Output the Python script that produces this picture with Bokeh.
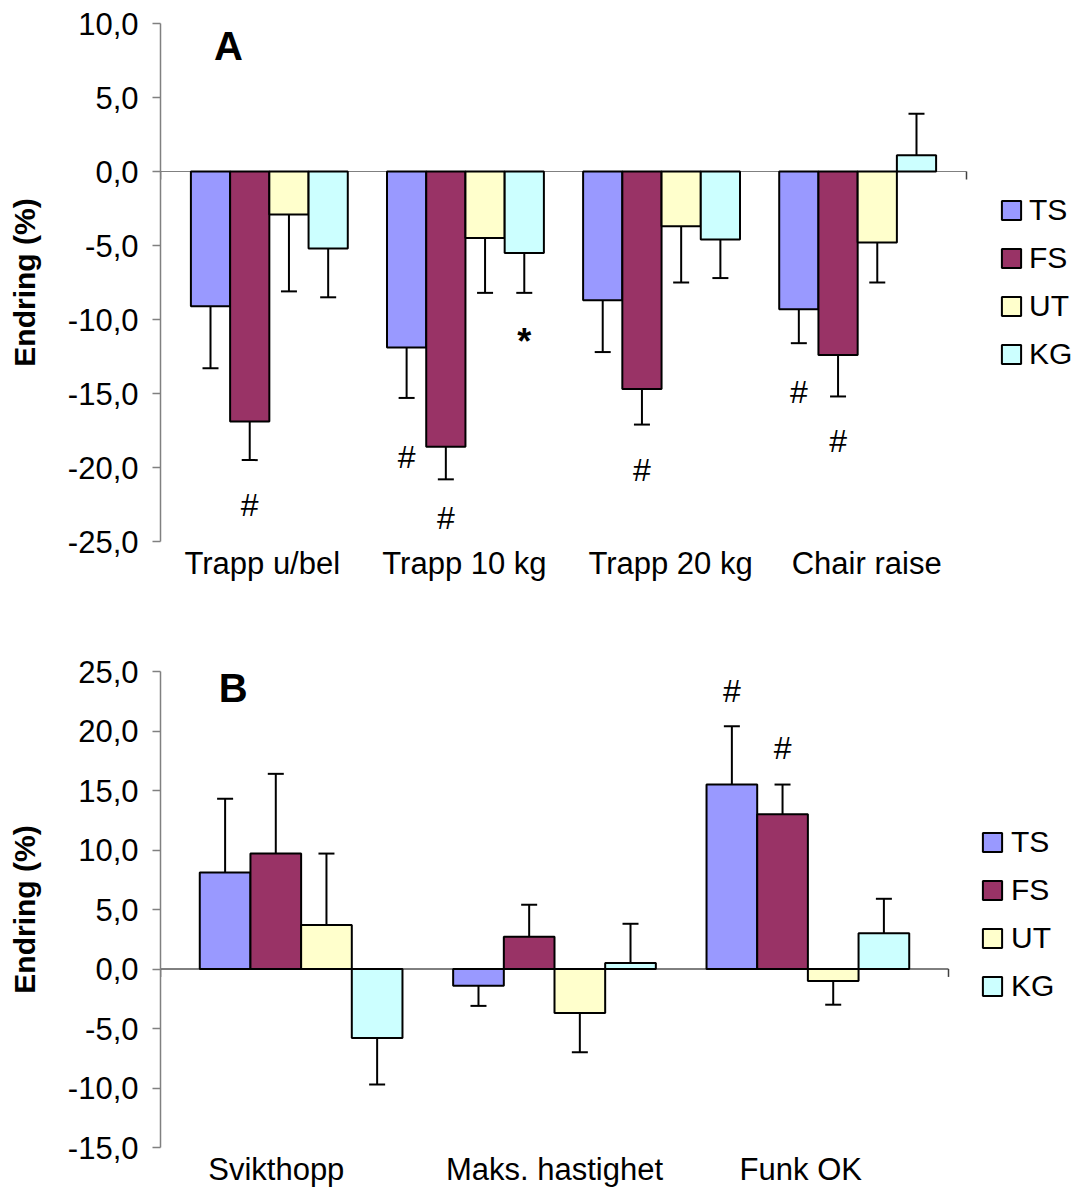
from bokeh.plotting import figure
from bokeh.models import (Range1d, FixedTicker, Legend, LegendItem,
                          Label, CustomJSTickFormatter)
from bokeh.core.properties import value
from bokeh.embed import file_html
from bokeh.resources import INLINE

FONT = "Liberation Sans"

series = ["TS", "FS", "UT", "KG"]
colors = ["#9999FF", "#993366", "#FFFFCC", "#CCFFFF"]

# Panel A: stair / chair tests, change in %
cats_a = ["Trapp u/bel", "Trapp 10 kg", "Trapp 20 kg", "Chair raise"]
ts_a = [-9.1, -11.9, -8.7, -9.3]
fs_a = [-16.9, -18.6, -14.7, -12.4]
ut_a = [-2.9, -4.5, -3.7, -4.8]
kg_a = [-5.2, -5.5, -4.6, 1.1]
ts_a_err = [4.2, 3.4, 3.5, 2.3]
fs_a_err = [2.6, 2.2, 2.4, 2.8]
ut_a_err = [5.2, 3.7, 3.8, 2.7]
kg_a_err = [3.3, 2.7, 2.6, 2.8]
yticks_a = [-25, -20, -15, -10, -5, 0, 5, 10]

# Panel B: jump / speed / functional tests, change in %
cats_b = ["Svikthopp", "Maks. hastighet", "Funk OK"]
ts_b = [8.1, -1.4, 15.5]
fs_b = [9.7, 2.7, 13.0]
ut_b = [3.7, -3.7, -1.0]
kg_b = [-5.8, 0.5, 3.0]
ts_b_err = [6.2, 1.7, 4.9]
fs_b_err = [6.7, 2.7, 2.5]
ut_b_err = [6.0, 3.3, 2.0]
kg_b_err = [3.9, 3.3, 2.9]
yticks_b = [-15, -10, -5, 0, 5, 10, 15, 20, 25]

# significance markers: (category, series, y, symbol)
marks_a = [(0, 1, -22.5, "#"), (1, 0, -19.3, "#"), (1, 1, -23.4, "#"),
           (1, 3, -11.5, "*"), (2, 1, -20.2, "#"), (3, 0, -14.9, "#"),
           (3, 1, -18.2, "#")]
marks_b = [(2, 0, 23.4, "#"), (2, 1, 18.6, "#")]

OFFSETS = [-0.3, -0.1, 0.1, 0.3]
BAR_W = 0.2
PAD = 0.555
FRAME_LEFT = 160
WIDTH = 1078


def panel(cats, vals, errs, marks, ylo, yhi, yticks, letter, letter_pos,
          label_shift, height, border_top, border_bottom, axis_right,
          legend_loc, legend_standoff, zero_color):
    n = len(cats)
    x0, x1 = -PAD, n - 1 + PAD
    # the frame runs to the right edge so the legend is drawn inside it;
    # the category axis itself stops at axis_right (pixels)
    px_per_cat = (axis_right - FRAME_LEFT) / (x1 - x0)
    x_end = x1 + (WIDTH - axis_right) / px_per_cat
    p = figure(width=WIDTH, height=height, output_backend="svg",
               toolbar_location=None,
               x_range=Range1d(x0, x_end), y_range=Range1d(ylo, yhi),
               min_border_left=FRAME_LEFT, min_border_right=0,
               min_border_top=border_top, min_border_bottom=border_bottom)
    p.outline_line_color = None
    p.xgrid.visible = False
    p.ygrid.visible = False
    p.background_fill_color = "white"
    p.border_fill_color = "white"

    # y axis
    yax = p.yaxis[0]
    yax.ticker = FixedTicker(ticks=yticks)
    yax.formatter = CustomJSTickFormatter(
        code="return tick.toFixed(1).replace('.', ',');")
    yax.axis_line_color = "#808080"
    yax.axis_line_width = 1.5
    yax.major_tick_line_color = "#808080"
    yax.major_tick_line_width = 1.5
    yax.major_tick_out = 8
    yax.major_tick_in = 0
    yax.minor_tick_line_color = None
    yax.major_label_standoff = 14
    yax.major_label_text_font = FONT
    yax.major_label_text_font_size = "31px"
    yax.major_label_text_color = "black"
    yax.axis_label = "Endring (%)"
    yax.axis_label_text_font = FONT
    yax.axis_label_text_font_size = "30px"
    yax.axis_label_text_font_style = "bold"
    yax.axis_label_text_color = "black"
    yax.axis_label_standoff = 24

    # category axis: labels only, the axis line itself sits at zero
    xax = p.xaxis[0]
    xax.ticker = FixedTicker(ticks=[i + s for i, s in enumerate(label_shift)])
    xax.formatter = CustomJSTickFormatter(
        args=dict(labels=cats), code="return labels[Math.round(tick)];")
    xax.axis_line_color = None
    xax.major_tick_line_color = None
    xax.minor_tick_line_color = None
    xax.major_tick_out = 0
    xax.major_tick_in = 0
    xax.major_label_standoff = 4
    xax.major_label_text_font = FONT
    xax.major_label_text_font_size = "31px"
    xax.major_label_text_color = "black"

    frame_h = height - border_top - border_bottom
    px_per_unit = frame_h / (yhi - ylo)

    # zero line (category axis) with a small tick at each end
    tick_len = 8 / px_per_unit
    p.segment(x0=[x0], y0=[0], x1=[x1], y1=[0], line_color=zero_color,
              line_width=1)
    p.segment(x0=[x0, x1], y0=[0, 0], x1=[x0, x1],
              y1=[-tick_len, -tick_len], line_color="#404040", line_width=1.5)

    items = []
    for k, name in enumerate(series):
        xs = [i + OFFSETS[k] for i in range(n)]
        v = vals[k]
        r = p.vbar(x=xs, top=v, bottom=0, width=BAR_W,
                   fill_color=colors[k], line_color="black", line_width=2)
        items.append(LegendItem(label=name, renderers=[r]))
        tips = [val - e if val < 0 else val + e for val, e in zip(v, errs[k])]
        p.segment(x0=xs, y0=v, x1=xs, y1=tips, line_color="black",
                  line_width=2)
        p.scatter(x=xs, y=tips, marker="dash", size=16, line_color="black",
                  line_width=2)

    for (ci, si, y, sym) in marks:
        p.text(x=[ci + OFFSETS[si]], y=[y], text=[sym],
               text_font=value(FONT),
               text_font_size="36px" if sym == "*" else "32px",
               text_font_style="bold" if sym == "*" else "normal",
               text_align="center", text_baseline="middle",
               text_color="black")

    p.add_layout(Label(x=letter_pos[0], y=letter_pos[1], text=letter,
                       text_font=FONT, text_font_size="40px",
                       text_font_style="bold", text_align="center",
                       text_baseline="middle", text_color="black"))

    legend = Legend(items=items, location=legend_loc, orientation="vertical",
                    glyph_width=24, glyph_height=24, label_height=32,
                    label_standoff=legend_standoff, spacing=14, padding=0,
                    margin=0, border_line_color=None,
                    background_fill_alpha=0,
                    label_text_font=FONT, label_text_font_size="30px",
                    label_text_color="black")
    p.add_layout(legend)
    return p


top = panel(cats_a, [ts_a, fs_a, ut_a, kg_a],
            [ts_a_err, fs_a_err, ut_a_err, kg_a_err], marks_a,
            -25, 10, yticks_a, "A", (-0.209, 8.5),
            [-0.036, -0.005, 0.046, 0.046], 600, 23, 59, 966,
            (839, 170), 6, "#808080")

bottom = panel(cats_b, [ts_b, fs_b, ut_b, kg_b],
               [ts_b_err, fs_b_err, ut_b_err, kg_b_err], marks_b,
               -15, 25, yticks_b, "B", (-0.268, 23.6),
               [-0.098, 0.0, -0.028], 589, 71, 38, 948,
               (820, 144), 7, "#000000")

# two independent roots so each panel keeps its own frame
open("out.html", "w").write(file_html([top, bottom], INLINE))
